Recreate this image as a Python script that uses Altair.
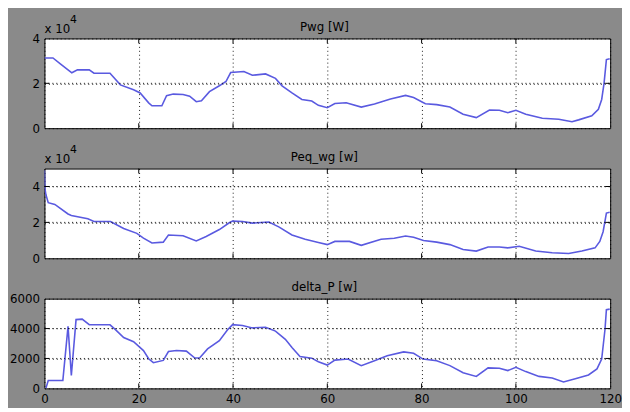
import altair as alt
import pandas as pd

# ---- data ----
t1 = [0, 1.8, 3.5, 5.0, 5.8, 7.0, 9.5, 10.5, 13.9, 16.1, 18.9, 20.3, 22.1, 22.8, 24.9,
      25.9, 27.3, 29.4, 30.8, 32.2, 33.3, 35.0, 37.1, 38.5, 39.5, 42.3, 44.1, 46.9, 49.0, 50.4,
      52.5, 54.6, 56.7, 58.1, 60.0, 61.6, 64.0, 67.2, 70.0, 73.4, 76.6, 78.3, 80.8, 83.2, 86.0,
      88.8, 91.6, 94.4, 96.5, 98.3, 100.0, 102.1, 105.6, 109.1, 111.9, 113.3, 116.1, 117.5,
      118.2, 118.7, 119.2, 119.9]
pwg = [31300, 31300, 28500, 26000, 24700, 26000, 26000, 24500, 24500, 19300, 17100, 15700,
       11300, 10000, 10000, 14500, 15200, 15000, 14300, 11800, 12200, 16300, 18900, 20800,
       24800, 25300, 23600, 24200, 22200, 18900, 15700, 12800, 12100, 10200, 9100, 11000,
       11300, 9400, 10800, 13000, 14600, 13700, 10900, 10500, 9400, 6200, 4700, 8100, 8000,
       6900, 8000, 6200, 4400, 4000, 2900, 3700, 5500, 8400, 12800, 20000, 30600, 31000]

t2 = [0, 0.1, 0.3, 0.8, 2.2, 5.0, 5.7, 9.2, 10.5, 14.0, 16.8, 19.6, 21.0, 22.8, 25.2,
      26.3, 29.4, 32.2, 34.3, 37.1, 39.2, 39.9, 42.0, 44.1, 47.6, 49.7, 52.5, 55.3, 58.1, 60.0,
      61.6, 64.7, 67.2, 71.4, 74.2, 76.6, 78.3, 80.4, 83.2, 86.0, 88.8, 91.6, 94.1, 96.5, 98.3,
      100.7, 104.2, 107.7, 111.2, 114.0, 116.8, 117.8, 118.5, 119.2, 119.9]
peq_wg = [49000, 39000, 35500, 31000, 30000, 24700, 23800, 22000, 20500, 20500, 16600,
          13900, 11200, 8500, 9000, 13000, 12600, 9700, 12100, 16000, 19800, 20700, 20500,
          19600, 20200, 17500, 13000, 10600, 8800, 7600, 9400, 9400, 7200, 10600, 11200,
          12400, 11700, 9900, 9000, 7600, 4900, 4000, 6300, 6300, 5800, 6700, 4000, 3100,
          2700, 4000, 5800, 9400, 14800, 25200, 25600]

t3 = [0.3, 0.8, 3.9, 5.0, 5.7, 6.7, 8.0, 9.5, 13.9, 15.0, 16.8, 18.9, 21.0, 22.1, 23.1,
      25.2, 26.3, 28.0, 30.1, 31.9, 32.9, 34.6, 37.1, 38.8, 39.9, 42.0, 44.1, 46.9, 49.0, 51.1,
      52.5, 54.2, 56.7, 58.1, 60.0, 61.6, 64.4, 67.2, 70.0, 72.7, 76.2, 78.3, 80.3, 83.2, 86.0,
      88.8, 91.6, 94.1, 96.5, 98.3, 100.0, 102.1, 104.9, 107.7, 110.1, 112.6, 115.4, 117.2,
      118.2, 118.9, 119.2, 119.9]
delta_p = [0, 530, 530, 4150, 860, 4600, 4630, 4265, 4250, 3950, 3400, 3120, 2530, 1980,
           1720, 1870, 2460, 2530, 2490, 2030, 2030, 2640, 3190, 3900, 4265, 4200, 4045, 4090,
           3830, 3280, 2730, 2130, 2020, 1780, 1560, 1890, 1960, 1520, 1850, 2180, 2440, 2350,
           1960, 1850, 1520, 1040, 800, 1370, 1340, 1190, 1410, 1120, 800, 690, 430, 650, 900,
           1300, 1960, 3940, 5260, 5300]

titles = ["Pwg [W]", "Peq_wg [w]", "delta_P [w]"]
x_ticks = [0, 20, 40, 60, 80, 100, 120]
y_ticks_1 = [0, 20000, 40000]
y_ticks_2 = [0, 20000, 40000]
y_ticks_3 = [0, 2000, 4000, 6000]
y_max = [40000, 50000, 6000]
exp_text = ["x 10", "4"]

# ---- style ----
W, H = 574, 91
FONT = "DejaVu Sans"
LINE = "#5a5ae0"
BG = "#8a8a8a"
GRID = dict(grid=True, gridColor="black", gridDash=[1, 3], gridOpacity=0.9, gridWidth=1)


def panel(t, v, title, ymax, yticks, scaled, bottom):
    df = pd.DataFrame({"t": t, "v": v})
    xs = alt.Scale(domain=[0, 120], nice=False, zero=False)
    ys = alt.Scale(domain=[0, ymax], nice=False, zero=False)
    xaxis = alt.Axis(values=x_ticks, ticks=False, domain=False, labels=bottom,
                     labelFontSize=12, labelFont=FONT, labelColor="black",
                     labelPadding=5, labelFlush=False, labelOverlap=False,
                     labelBound=False, title=None, **GRID)
    yaxis_kw = dict(values=yticks, ticks=False, domain=False,
                    labelFontSize=12, labelFont=FONT, labelColor="black",
                    labelPadding=5, labelOverlap=False, labelBound=False,
                    minExtent=35, maxExtent=35, title=None, **GRID)
    if scaled:
        yaxis_kw["labelExpr"] = "format(datum.value/10000,'d')"
    else:
        yaxis_kw["format"] = "d"
    yaxis = alt.Axis(**yaxis_kw)

    line = alt.Chart(df).mark_line(color=LINE, strokeWidth=1.6, clip=True).encode(
        x=alt.X("t:Q", scale=xs, axis=xaxis),
        y=alt.Y("v:Q", scale=ys, axis=yaxis),
    )
    xt = pd.DataFrame({"gx": x_ticks[1:-1]})
    yt = pd.DataFrame({"gy": [y for y in yticks if 0 < y < ymax]})
    grid_y = alt.Chart(yt).mark_rule(color="black", strokeDash=[1, 3], opacity=0.9).encode(
        y=alt.Y("gy:Q", axis=None), x=alt.value(0), x2=alt.value(W))
    tick_top = alt.Chart(xt).mark_rule(color="black").encode(
        x=alt.X("gx:Q", axis=None), y=alt.value(0), y2=alt.value(5))
    tick_bot = alt.Chart(xt).mark_rule(color="black").encode(
        x=alt.X("gx:Q", axis=None), y=alt.value(H - 5), y2=alt.value(H))
    tick_l = alt.Chart(yt).mark_rule(color="black").encode(
        y=alt.Y("gy:Q", axis=None), x=alt.value(0), x2=alt.value(5))
    tick_r = alt.Chart(yt).mark_rule(color="black").encode(
        y=alt.Y("gy:Q", axis=None), x=alt.value(W - 5), x2=alt.value(W))
    # invisible spacer that fixes the room above each plot
    spacer = alt.Chart(pd.DataFrame({"s": [0]})).mark_rule(strokeOpacity=0).encode(
        x=alt.value(1), y=alt.value(-32), y2=alt.value(0))
    ttl = alt.Chart(pd.DataFrame({"s": [title]})).mark_text(
        align="center", baseline="middle", fontSize=12, font=FONT, color="black"
    ).encode(x=alt.value(W / 2 - 3), y=alt.value(-12), text="s:N")
    layers = [line, grid_y, tick_top, tick_bot, tick_l, tick_r, spacer, ttl]
    if scaled:
        e1 = alt.Chart(pd.DataFrame({"s": [exp_text[0]]})).mark_text(
            align="left", baseline="middle", fontSize=12, font=FONT, color="black"
        ).encode(x=alt.value(0), y=alt.value(-10), text="s:N")
        e2 = alt.Chart(pd.DataFrame({"s": [exp_text[1]]})).mark_text(
            align="left", baseline="middle", fontSize=11, font=FONT, color="black"
        ).encode(x=alt.value(26), y=alt.value(-19), text="s:N")
        layers += [e1, e2]
    return alt.layer(*layers).resolve_axis(x="independent", y="independent").properties(
        width=W, height=H)


p1 = panel(t1, pwg, titles[0], y_max[0], y_ticks_1, True, False)
p2 = panel(t2, peq_wg, titles[1], y_max[1], y_ticks_2, True, False)
p3 = panel(t3, delta_p, titles[2], y_max[2], y_ticks_3, False, True)

chart = alt.vconcat(p1, p2, p3, spacing=1).properties(
    padding={"left": 0, "top": -5, "right": 0, "bottom": 0}
).configure(background=BG).configure_view(fill="white", stroke="black", strokeWidth=1)

chart.save("out.html", embed_options={"renderer": "svg", "actions": False})
